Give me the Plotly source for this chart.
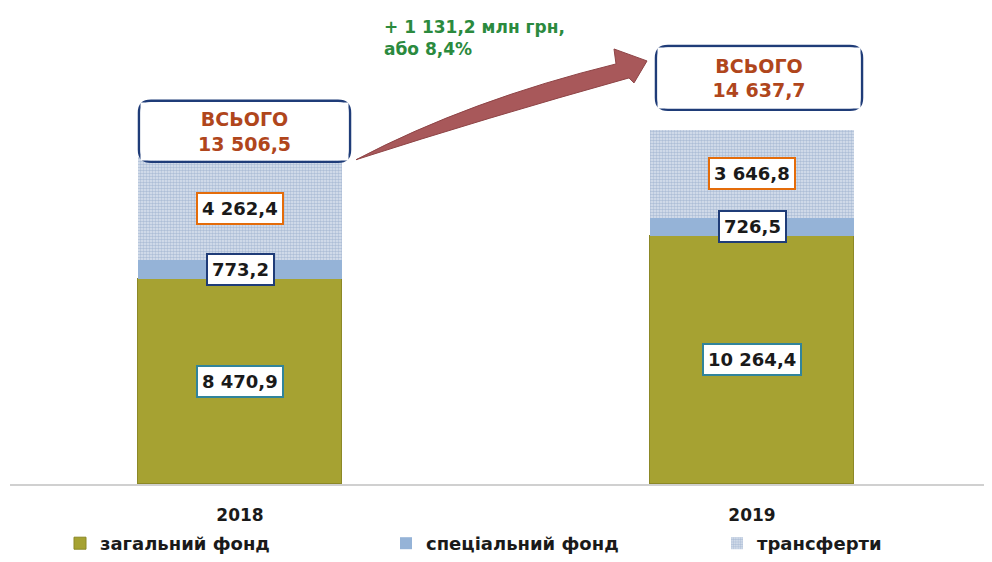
import plotly.graph_objects as go

years = ["2018", "2019"]
general = [8470.9, 10264.4]
special = [773.2, 726.5]
transfers = [4262.4, 3646.8]
totals = [13506.5, 14637.7]
general_lbl = ["8 470,9", "10 264,4"]
special_lbl = ["773,2", "726,5"]
transfers_lbl = ["4 262,4", "3 646,8"]
totals_lbl = ["13 506,5", "14 637,7"]
series_names = ["загальний фонд", "спеціальний фонд", "трансферти"]
growth_text = "+ 1 131,2 млн грн,<br>або 8,4%"

OFF = 8  # page body margin
W, H = 992 - OFF, 562 - OFF
BASE = 485 - OFF
ML, MR, MT, MB = 2, 0, 40 - OFF, H - BASE
PW = W - ML - MR
PH = H - MT - MB
x0 = -(240 - OFF - ML) / 512
x1 = x0 + PW / 512
YMAX = PH / 0.02425
xs = [0, 1]


def px(x):
    # viewport pixel x -> paper
    return (x - OFF - ML) / PW


def py(y):
    # viewport pixel y -> paper
    return (BASE - (y - OFF)) / PH


FONT = "DejaVu Sans"
fig = go.Figure()
fig.add_trace(go.Bar(x=xs, y=general, name="<b>" + series_names[0] + "</b>", width=0.4, legend="legend",
                     marker=dict(color="#a6a232", line=dict(color="#8c8826", width=1))))
fig.add_trace(go.Bar(x=xs, y=special, name="<b>" + series_names[1] + "</b>", width=0.4, legend="legend2",
                     marker=dict(color="#95b3d7", line=dict(width=0))))
fig.add_trace(go.Bar(x=xs, y=transfers, name="<b>" + series_names[2] + "</b>", width=0.4, legend="legend3",
                     marker=dict(color="#ffffff", line=dict(width=0),
                                 pattern=dict(shape=".", fgcolor="#8098bd", bgcolor="#dce4ef",
                                              size=3, solidity=0.55))))

ann = []
lbl_font = dict(family=FONT, size=18, color="#1a1a1a")
for i, x in enumerate(xs):
    ann.append(dict(x=x, y=general[i] / 2, text="<b>" + general_lbl[i] + "</b>", showarrow=False,
                    font=lbl_font, bgcolor="white",
                    bordercolor="#31849b", borderwidth=2, borderpad=4))
    ann.append(dict(x=x, y=general[i] + special[i] / 2, text="<b>" + special_lbl[i] + "</b>", showarrow=False,
                    font=lbl_font, bgcolor="white",
                    bordercolor="#1f3c78", borderwidth=2, borderpad=4))
    ann.append(dict(x=x, y=general[i] + special[i] + transfers[i] / 2, text="<b>" + transfers_lbl[i] + "</b>",
                    showarrow=False, font=lbl_font, bgcolor="white",
                    bordercolor="#e46c0a", borderwidth=2, borderpad=4))

total_boxes = [(139, 101, 350, 162), (656, 46, 862, 110)]
for i, (xa, ya, xb, yb) in enumerate(total_boxes):
    ann.append(dict(xref="paper", yref="paper", x=px((xa + xb) / 2), y=py((ya + yb) / 2),
                    text="<b>ВСЬОГО<br>" + totals_lbl[i] + "</b>",
                    showarrow=False, font=dict(family=FONT, size=19, color="#b0461c"),
                    bgcolor="white", width=(xb - xa) - 6, height=(yb - ya) - 6, align="center",
                    xanchor="center", yanchor="middle"))
ann.append(dict(xref="paper", yref="paper", x=px(382), y=py(38), xanchor="left", yanchor="middle",
                text="<b>" + growth_text + "</b>", showarrow=False, align="left",
                font=dict(family=FONT, size=17, color="#2b8a3e")))

shapes = []


def rounded(xa, ya, xb, yb, r=12):
    X = px
    Y = py
    return ("M {a},{b} L {c},{b} Q {d},{b} {d},{e} L {d},{f} Q {d},{g} {c},{g} L {a},{g} "
            "Q {h},{g} {h},{f} L {h},{e} Q {h},{b} {a},{b} Z").format(
        a=X(xa + r), b=Y(ya), c=X(xb - r), d=X(xb), e=Y(ya + r), f=Y(yb - r), g=Y(yb), h=X(xa))


for (xa, ya, xb, yb) in total_boxes:
    shapes.append(dict(type="path", xref="paper", yref="paper", path=rounded(xa, ya, xb, yb),
                       line=dict(color="#1f3c78", width=2.5), fillcolor="rgba(0,0,0,0)", layer="above"))

# curved arrow
pts = "M {},{} Q {},{} {},{} L {},{} L {},{} L {},{} L {},{} Q {},{} {},{} Z".format(
    px(356), py(160),
    px(470), py(100), px(616), py(64),
    px(614), py(49),
    px(647), py(61),
    px(634), py(83),
    px(629), py(78),
    px(486), py(118), px(356), py(160))
shapes.append(dict(type="path", xref="paper", yref="paper", path=pts,
                   fillcolor="#a8585a", line=dict(color="#8e4446", width=1), layer="above"))

leg_common = dict(orientation="h", y=py(563), xanchor="left", yanchor="bottom",
                  font=dict(family=FONT, size=18, color="#1a1a1a"), itemwidth=30,
                  bgcolor="rgba(0,0,0,0)")
fig.update_layout(
    width=W, height=H, barmode="stack", bargap=0,
    margin=dict(l=ML, r=MR, t=MT, b=MB),
    plot_bgcolor="white", paper_bgcolor="white",
    xaxis=dict(range=[x0, x1], tickvals=xs, ticktext=["<b>" + y + "</b>" for y in years],
               showgrid=False, zeroline=False,
               showline=True, linecolor="#d0d0d0", linewidth=2, ticks="",
               tickfont=dict(family=FONT, size=17, color="#1a1a1a"), ticklabelstandoff=15),
    yaxis=dict(range=[0, YMAX], visible=False),
    legend=dict(x=px(60), **leg_common),
    legend2=dict(x=px(386), **leg_common),
    legend3=dict(x=px(717), **leg_common),
    annotations=ann, shapes=shapes, showlegend=True,
)
fig.write_html("out.html")
